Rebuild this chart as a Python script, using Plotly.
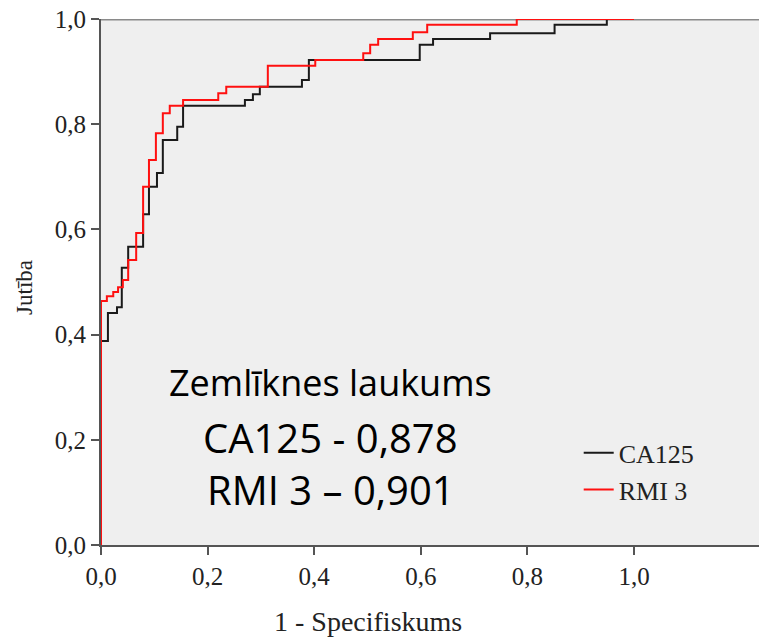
import plotly.graph_objects as go

# ROC data (1 - specificity, sensitivity), step vertices
ca125_fpr = [0, 0.013, 0.030, 0.039, 0.051, 0.079, 0.090, 0.105, 0.116, 0.143, 0.154,
             0.270, 0.285, 0.298, 0.377, 0.390, 0.598, 0.623, 0.730, 0.851, 0.949, 1.0]
ca125_tpr = [0, 0.388, 0.441, 0.452, 0.527, 0.567, 0.629, 0.681, 0.707, 0.770, 0.795,
             0.835, 0.846, 0.857, 0.871, 0.884, 0.922, 0.951, 0.962, 0.973, 0.989, 1.0]

rmi_fpr = [0, 0.011, 0.023, 0.032, 0.041, 0.051, 0.066, 0.079, 0.090, 0.103, 0.116, 0.129,
           0.154, 0.220, 0.235, 0.313, 0.402, 0.492, 0.505, 0.520, 0.585, 0.612, 0.780, 1.0]
rmi_tpr = [0, 0.464, 0.473, 0.481, 0.490, 0.504, 0.542, 0.593, 0.681, 0.732, 0.783, 0.821,
           0.835, 0.846, 0.859, 0.871, 0.911, 0.922, 0.935, 0.951, 0.962, 0.975, 0.989, 1.0]

series_names = ["CA125", "RMI 3"]
tick_vals = [0, 0.2, 0.4, 0.6, 0.8, 1.0]
auc_lines = ["Zemlīknes laukums", "CA125 - 0,878", "RMI 3 – 0,901"]

serif = "Liberation Serif"

fig = go.Figure()
fig.add_trace(go.Scatter(x=ca125_fpr, y=ca125_tpr, mode="lines", line_shape="vh",
                         name=series_names[0],
                         line=dict(color="#1a1a1a", width=2)))
fig.add_trace(go.Scatter(x=rmi_fpr, y=rmi_tpr, mode="lines", line_shape="vh",
                         name=series_names[1],
                         line=dict(color="#ff1010", width=2)))

axis_common = dict(showgrid=False, zeroline=False, showline=True, linecolor="#555555",
                   linewidth=2, ticks="outside", ticklen=8, tickwidth=2, tickcolor="#555555",
                   tickfont=dict(family=serif, size=25, color="#222222"),
                   tickformat=".1f", tickvals=tick_vals)

fig.update_layout(
    width=759, height=637,
    margin=dict(l=101, r=0, t=19, b=92),
    paper_bgcolor="white", plot_bgcolor="#efefef",
    separators=", ",
    xaxis=dict(range=[0, 658 / 533], **axis_common),
    yaxis=dict(range=[0, 1], **axis_common),
    showlegend=True,
    legend=dict(x=0.726, y=0.22, xanchor="left", yanchor="top",
                bgcolor="rgba(0,0,0,0)",
                font=dict(family=serif, size=26, color="#222222")),
    shapes=[dict(type="line", xref="paper", x0=0, x1=1, yref="y", y0=1, y1=1,
                 line=dict(color="#8a8a8a", width=3), layer="below")],
)

# axis titles
fig.add_annotation(text="1 - Specifiskums", x=0.5, xref="x", y=-0.146, yref="paper",
                   showarrow=False, font=dict(family=serif, size=28, color="#222222"),
                   xanchor="center", yanchor="middle")
fig.add_annotation(text="Jutība", x=-0.116, xref="paper", y=0.49, yref="y",
                   showarrow=False, textangle=-90,
                   font=dict(family=serif, size=23, color="#222222"),
                   xanchor="center", yanchor="middle")

# AUC text block
for txt, yy, fs in zip(auc_lines, [0.308, 0.205, 0.105], [36, 40, 40]):
    fig.add_annotation(text=txt, x=0.431, xref="x", y=yy, yref="y", showarrow=False,
                       font=dict(family="Open Sans", size=fs, color="black"),
                       xanchor="center", yanchor="middle")

fig.write_html("out.html")
